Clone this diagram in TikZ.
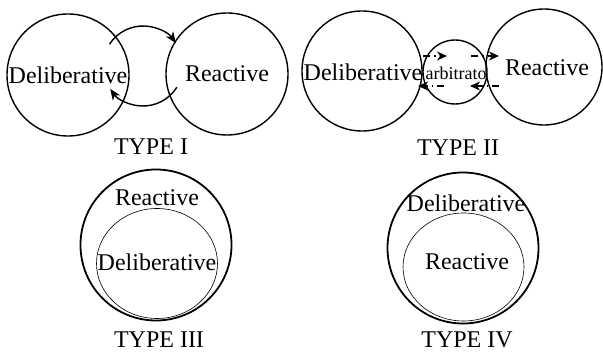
\documentclass[tikz,border=0pt]{standalone}
\usepackage{fontspec}
\setmainfont{Liberation Serif}
\usetikzlibrary{arrows.meta,shapes.geometric}
\begin{document}
\begin{tikzpicture}[x=1pt,y=-1pt,
  big/.style={draw, circle, inner sep=0pt, line width=1.4pt},
  outer/.style={draw, circle, inner sep=0pt, line width=1.8pt, minimum size=151pt},
  inner/.style={draw, ellipse, inner sep=0pt, line width=0.6pt},
  lbl/.style={font=\fontsize{24}{28}\selectfont, inner sep=0pt},
  small/.style={font=\fontsize{18}{20}\selectfont, inner sep=0pt},
  arr/.style={-{Stealth[length=11pt,width=9pt,inset=3pt]}, line width=1.4pt},
  darr/.style={-{Stealth[length=10pt,width=9pt,inset=3pt]}, line width=1.3pt, dash pattern=on 7pt off 4pt on 1.5pt off 4pt}
]
\useasboundingbox (0,0) rectangle (603,352);

% TYPE I
\node[big, minimum size=122pt] (D1) at (68,75) {};
\node[big, minimum size=122pt] (R1) at (227,74) {};
\node[lbl] (D1t) at (D1.center) {Deliberative};
\node[lbl] (R1t) at (R1.center) {Reactive};
\coordinate (a1) at (109.5,44.2);
\coordinate (b1) at (176.9,87.2);
\draw[arr] (a1) arc[start angle=147, end angle=35, radius=40pt];
\draw[arr] (b1) arc[start angle=-32, end angle=-145, radius=40pt];
\node[lbl] (T1) at (151,147) {TYPE I};

% TYPE II
\node[big, minimum size=120pt] (D2) at (362,71) {};
\node[big, minimum size=116pt] (R2) at (544,67) {};
\node[big, minimum size=64pt] (A2) at (455,72) {};
\node[lbl] (D2t) at (363,72) {Deliberative};
\node[lbl] (R2t) at (547,68) {Reactive};
\begin{scope}
  \clip (455,72) circle[radius=31pt];
  \node[small] (A2t) at (459,73) {arbitrator};
\end{scope}
\coordinate (p1) at (423,56);
\coordinate (p2) at (447,56);
\coordinate (p3) at (471,56);
\coordinate (p4) at (499,56);
\coordinate (q1) at (499,86);
\coordinate (q2) at (470,86);
\coordinate (q3) at (444,86);
\coordinate (q4) at (418,86);
\draw[darr] (p1) -- (p2);
\draw[darr] (p3) -- (p4);
\draw[darr] (q1) -- (q2);
\draw[darr] (q3) -- (q4);
\node[lbl] (T2) at (458,148) {TYPE II};

% TYPE III
\node[outer] (O3) at (156,245) {};
\node[inner, minimum width=121pt, minimum height=110pt] (I3) at (157,263.5) {};
\node[lbl] (R3t) at (157,198) {Reactive};
\node[lbl] (D3t) at (157,262) {Deliberative};
\node[lbl] (T3) at (159,340) {TYPE III};

% TYPE IV
\node[outer] (O4) at (463,248) {};
\node[inner, minimum width=121pt, minimum height=108pt] (I4) at (463.5,267) {};
\node[lbl] (D4t) at (466,203) {Deliberative};
\node[lbl] (R4t) at (467,262) {Reactive};
\node[lbl] (T4) at (467,340) {TYPE IV};
\end{tikzpicture}
\end{document}
